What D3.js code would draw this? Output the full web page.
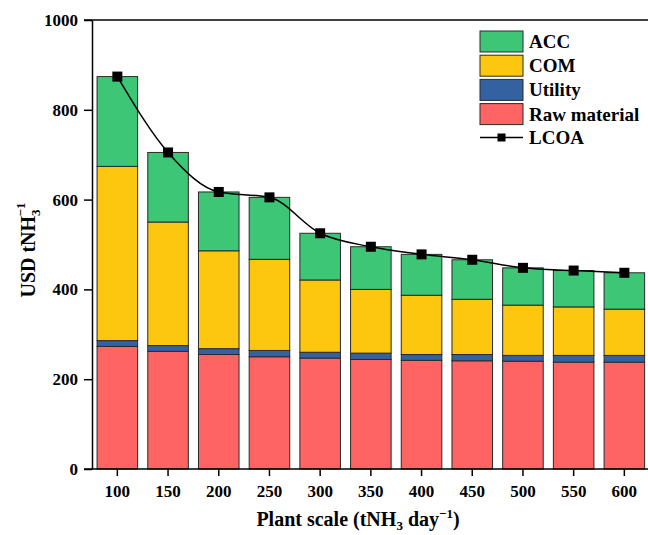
<!DOCTYPE html>
<html>
<head>
<meta charset="utf-8">
<script src="https://cdn.jsdelivr.net/npm/d3@7"></script>
<style>
  body { margin: 0; background: #fff; }
  text { font-family: "Liberation Serif", "Times New Roman", serif; font-weight: bold; }
</style>
</head>
<body>
<div id="chart"></div>
<script>
// --- data ---
const scales = ["100", "150", "200", "250", "300", "350", "400", "450", "500", "550", "600"];
const rawMaterial = [273, 262, 255, 250, 247, 244, 242, 241, 240, 238, 238];
const utility = [13, 13, 13, 14, 13, 14, 13, 14, 13, 15, 15];
const com = [388, 275, 218, 203, 161, 142, 132, 123, 112, 108, 103];
const acc = [200, 155, 131, 138, 104, 95, 91, 88, 83, 81, 81];
const lcoa = [874, 705, 617, 605, 525, 495, 478, 466, 448, 442, 437];
const yTicks = [0, 200, 400, 600, 800, 1000];

const seriesKeys = ["raw", "utility", "com", "acc"];
const seriesColors = { raw: "#ff6464", utility: "#3462a0", com: "#fdc60f", acc: "#3cc675" };

const W = 648, H = 535;
const margin = { top: 20, left: 92 };
const plotH = 449;
const step = 50.7;

const svg = d3.select("#chart").append("svg")
  .attr("width", W).attr("height", H);

// build rows for the stack
const rows = scales.map((s, i) => ({
  scale: s, raw: rawMaterial[i], utility: utility[i], com: com[i], acc: acc[i]
}));
const stacked = d3.stack().keys(seriesKeys)(rows);

const x = d3.scaleBand()
  .domain(scales)
  .range([margin.left, margin.left + step * scales.length])
  .paddingInner(0.2)
  .paddingOuter(0.1);

const y = d3.scaleLinear()
  .domain([0, 1000])
  .range([margin.top + plotH, margin.top]);

// bars
svg.append("g").selectAll("g")
  .data(stacked)
  .join("g")
  .attr("fill", d => seriesColors[d.key])
  .selectAll("rect")
  .data(d => d)
  .join("rect")
  .attr("x", d => x(d.data.scale))
  .attr("width", x.bandwidth())
  .attr("y", d => y(d[1]))
  .attr("height", d => y(d[0]) - y(d[1]))
  .attr("stroke", "#2a2a2a")
  .attr("stroke-width", 1);

// top frame line
svg.append("line")
  .attr("x1", margin.left - 8).attr("x2", W + 10)
  .attr("y1", y(1000)).attr("y2", y(1000))
  .attr("stroke", "#000").attr("stroke-width", 1.5);

// axes
const xAxis = svg.append("g")
  .attr("transform", `translate(0,${y(0)})`)
  .call(d3.axisBottom(x).tickSize(7).tickSizeOuter(0).tickPadding(9));
xAxis.select(".domain").attr("d", `M${margin.left - 8},0H${W + 10}`).attr("stroke-width", 1.5);
xAxis.selectAll(".tick line").attr("stroke-width", 1.5);
xAxis.selectAll("text").style("font-size", "17px").attr("fill", "#000");

const yAxis = svg.append("g")
  .attr("transform", `translate(${margin.left},0)`)
  .call(d3.axisLeft(y).tickValues(yTicks).tickFormat(d3.format("d")).tickSize(8).tickSizeOuter(0).tickPadding(6));
yAxis.select(".domain").attr("stroke-width", 1.5);
yAxis.selectAll(".tick line").attr("stroke-width", 1.5);
yAxis.selectAll("text").style("font-size", "17px").attr("fill", "#000");

// LCOA line
const line = d3.line()
  .x((d, i) => x(scales[i]) + x.bandwidth() / 2)
  .y(d => y(d))
  .curve(d3.curveMonotoneX);

svg.append("path")
  .datum(lcoa)
  .attr("d", line)
  .attr("fill", "none")
  .attr("stroke", "#000")
  .attr("stroke-width", 1.5);

svg.append("g").selectAll("rect")
  .data(lcoa)
  .join("rect")
  .attr("x", (d, i) => x(scales[i]) + x.bandwidth() / 2 - 5)
  .attr("y", d => y(d) - 5)
  .attr("width", 10).attr("height", 10)
  .attr("fill", "#000");

// axis titles
const yTitle = svg.append("text")
  .attr("transform", "translate(35,250) rotate(-90)")
  .attr("text-anchor", "middle")
  .style("font-size", "20px");
yTitle.append("tspan").text("USD tNH");
yTitle.append("tspan").attr("dy", 5).style("font-size", "13px").text("3");
yTitle.append("tspan").attr("dx", -7).attr("dy", -15).style("font-size", "13px").text("\u22121");

const xTitle = svg.append("text")
  .attr("x", 358).attr("y", 526)
  .attr("text-anchor", "middle")
  .style("font-size", "20px");
xTitle.append("tspan").text("Plant scale (tNH");
xTitle.append("tspan").attr("dy", 4).style("font-size", "13px").text("3");
xTitle.append("tspan").attr("dy", -4).text(" day");
xTitle.append("tspan").attr("dy", -8).style("font-size", "13px").text("\u22121");
xTitle.append("tspan").attr("dy", 8).text(")");

// legend
const legendItems = [
  { label: "ACC", key: "acc" },
  { label: "COM", key: "com" },
  { label: "Utility", key: "utility" },
  { label: "Raw material", key: "raw" }
];
const legend = svg.append("g").attr("transform", "translate(480,31)");
legendItems.forEach((it, i) => {
  const g = legend.append("g").attr("transform", `translate(0,${i * 24.2})`);
  g.append("rect")
    .attr("width", 43).attr("height", 21)
    .attr("fill", seriesColors[it.key])
    .attr("stroke", "#2a2a2a").attr("stroke-width", 1);
  g.append("text")
    .attr("x", 49).attr("y", 17)
    .style("font-size", "19px")
    .text(it.label);
});
const lg = legend.append("g").attr("transform", "translate(0,106.5)");
lg.append("line").attr("x1", 0).attr("x2", 43).attr("stroke", "#000").attr("stroke-width", 1.5);
lg.append("rect").attr("x", 17.5).attr("y", -4).attr("width", 8).attr("height", 8).attr("fill", "#000");
lg.append("text").attr("x", 49).attr("y", 6.5).style("font-size", "19px").text("LCOA");
</script>
</body>
</html>
